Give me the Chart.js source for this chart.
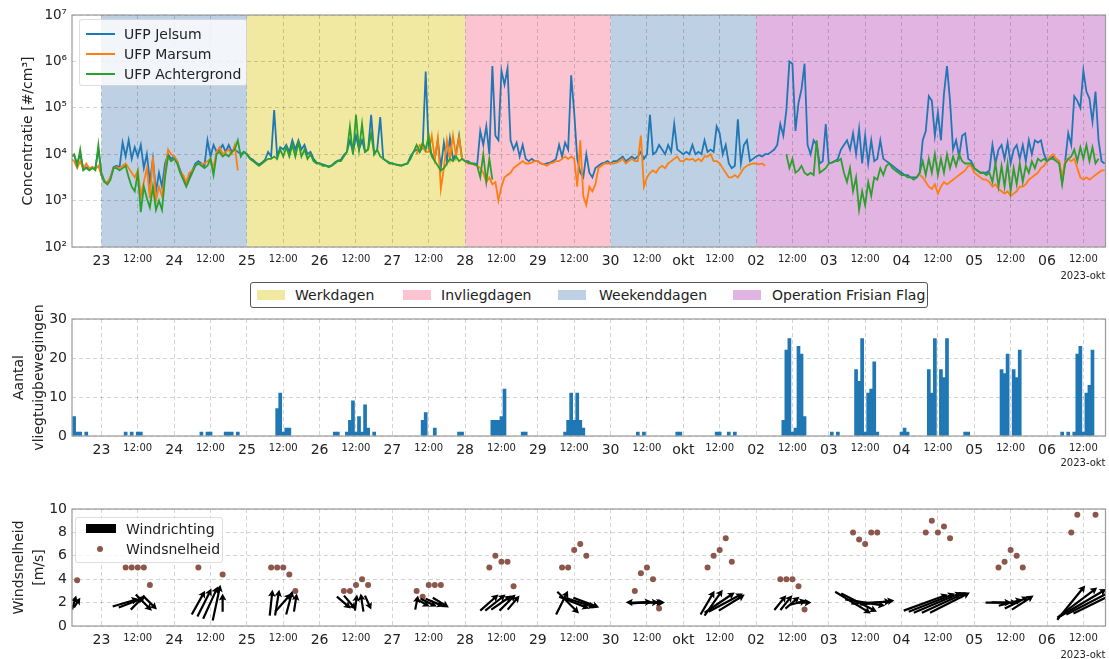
<!DOCTYPE html>
<html>
<head>
<meta charset="utf-8">
<script src="https://cdn.jsdelivr.net/npm/chart.js@4.4.1/dist/chart.umd.min.js"></script>
<style>
  body { margin: 0; width: 1109px; height: 659px; position: relative; overflow: hidden; background: #fff;
         font-family: 'DejaVu Sans', sans-serif; color: #222; }
  .panel { position: absolute; left: 0; }
  .legend { position: absolute; box-sizing: border-box; font-size: 14px; z-index: 2; }
  .legend span { position: absolute; white-space: nowrap; line-height: 16px; }
  .legend i { position: absolute; display: block; }
</style>
</head>
<body>
<div class="panel" style="top:0"><canvas id="conc" width="1109" height="290"></canvas></div>
<div class="panel" style="top:270px"><canvas id="flights" width="1109" height="200"></canvas></div>
<div class="panel" style="top:480px"><canvas id="wind" width="1109" height="185"></canvas></div>

<!-- legend, concentration panel -->
<div class="legend" style="left:79px;top:19px;width:168px;height:67px;background:rgba(255,255,255,0.8);border:1px solid rgba(0,0,0,0.13);border-radius:3px">
  <i style="left:6px;top:13px;width:29px;height:2px;background:#1f77b4"></i><span style="left:44px;top:6px">UFP Jelsum</span>
  <i style="left:6px;top:33px;width:29px;height:2px;background:#ff7f0e"></i><span style="left:44px;top:26px">UFP Marsum</span>
  <i style="left:6px;top:53px;width:29px;height:2px;background:#2ca02c"></i><span style="left:44px;top:46px">UFP Achtergrond</span>
</div>

<!-- legend, period types -->
<div class="legend" style="left:250px;top:282px;width:678px;height:26px;border:1px solid #555;border-radius:3px;background:#fff">
  <i style="left:6px;top:7px;width:28px;height:10px;background:#f1e9a2"></i><span style="left:44px;top:4px">Werkdagen</span>
  <i style="left:152px;top:7px;width:28px;height:10px;background:#fcc4d1"></i><span style="left:190px;top:4px">Invliegdagen</span>
  <i style="left:307px;top:7px;width:28px;height:10px;background:#bed0e4"></i><span style="left:348px;top:4px">Weekenddagen</span>
  <i style="left:482px;top:7px;width:28px;height:10px;background:#e2b4e2"></i><span style="left:521px;top:4px">Operation Frisian Flag</span>
</div>

<!-- legend, wind panel -->
<div class="legend" style="left:75px;top:517px;width:148px;height:46px;background:rgba(255,255,255,0.8);border:1px solid rgba(0,0,0,0.13);border-radius:3px">
  <i style="left:10px;top:6px;width:30px;height:9px;background:#000"></i><span style="left:50px;top:3px">Windrichting</span>
  <i style="left:21px;top:28px;width:6px;height:6px;border-radius:3px;background:#8c564b"></i><span style="left:50px;top:23px">Windsnelheid</span>
</div>

<script>
// ── Time axis: hours relative to 23 sep 2023 00:00 ──────────────────
const xMin = -9.7;
const xMax = 331.3;
const firstHour = -10;            // first sample of the concentration rows: 22 sep 14:00
const dayLabels = ['23', '24', '25', '26', '27', '28', '29', '30', 'okt', '02', '03', '04', '05', '06'];
const tickHours = [];
for (let h = 0; h <= 324; h += 12) tickHours.push(h);

// ── Periods (background bands) ──────────────────────────────────────
const periodStart = [0, 48, 120, 168, 216];
const periodEnd = [48, 120, 168, 216, 340];
const periodKind = ['Weekenddagen', 'Werkdagen', 'Invliegdagen', 'Weekenddagen', 'Operation Frisian Flag'];

// ── UFP concentration, log10(#/cm3), hourly; one row per day (22 sep 14:00 .. 06 okt) ──
const jelsumLog = [
  [3.95,3.98,3.8,4.0,3.7,3.72,3.68,3.72,3.7,4.1],
  [3.6,3.42,3.38,3.5,3.72,3.75,3.72,4.25, 3.95,4.3,3.9,4.15,3.95,4.2,3.7,4.0, 3.4,3.9,3.2,3.6,3.3,3.8,4.0,3.9],
  [3.95,3.85,3.65,3.5,3.35,3.5,3.65,3.8, 3.85,3.8,3.75,4.3,3.95,4.2,4.05,4.1, 4.2,4.05,4.2,4.05,4.1,4.05,4.0,4.05],
  [4.0,3.92,3.88,3.82,3.78,3.82,3.88,4.05, 3.95,4.95,3.95,4.15,4.1,4.2,4.05,4.3, 4.1,4.3,4.1,4.2,4.0,4.05,3.9,3.82],
  [3.8,3.78,3.76,3.74,3.76,3.82,3.86,3.88, 3.98,4.05,4.3,4.05,4.4,4.1,4.3,4.05, 4.1,4.85,4.0,4.1,4.8,3.9,3.86,3.82],
  [3.8,3.78,3.77,3.76,3.78,3.8,3.95,4.05, 4.1,4.05,4.15,5.78,4.1,4.0,3.9,4.3, 3.7,4.25,3.85,4.35,3.9,4.0,4.4,3.9],
  [3.85,3.85,3.8,3.8,3.78,4.5,4.2,4.6, 4.0,5.9,4.4,4.3,5.8,5.5,5.85,4.3, 4.1,4.25,3.95,4.2,3.9,3.85,3.9,3.85],
  [3.85,3.8,3.78,3.8,3.82,3.85,3.9,4.2, 3.95,4.25,4.1,5.7,4.9,3.9,3.6,3.5, 4.0,3.6,3.5,3.7,3.75,3.8,3.82,3.85],
  [3.8,3.85,3.85,3.9,3.95,3.85,3.9,3.95, 3.9,3.95,4.05,3.9,4.0,4.85,4.0,4.05, 4.2,4.1,4.0,4.2,4.05,4.65,4.1,4.05],
  [4.0,4.05,4.0,4.2,4.0,4.05,4.0,4.3, 4.05,4.1,4.05,4.6,4.45,4.0,4.2,3.8, 3.7,3.75,4.75,3.8,4.2,4.3,3.85,3.9],
  [3.95,3.98,3.95,4.0,4.0,4.05,4.1,4.2, 4.65,4.4,4.95,6.0,5.95,4.5,5.1,5.4, 5.95,4.2,4.0,4.3,4.2,3.8,3.85,4.65],
  [3.8,3.82,3.85,3.9,4.1,4.2,4.3,4.1, 4.45,4.0,4.55,3.8,4.4,3.8,4.3,3.85, 3.9,4.3,3.9,3.85,3.8,3.75,3.7,3.65],
  [3.6,3.55,3.55,3.5,3.5,3.5,3.6,4.3, 4.5,5.25,5.15,4.4,4.9,4.3,5.3,5.9, 5.15,4.1,4.3,3.95,4.4,4.45,3.9,3.85],
  [3.7,3.65,3.6,3.6,3.6,3.65,4.2,3.8, 4.1,4.2,3.9,4.25,3.8,4.1,4.2,3.9, 4.2,3.85,4.3,4.0,4.3,4.25,4.3,4.0],
  [3.85,3.9,3.95,3.9,3.85,3.4,3.85,4.45, 4.2,5.25,5.15,5.0,5.8,5.35,5.2,4.7, 5.35,4.3,3.85,3.8]
];
const marsumLog = [
  [3.9,3.85,3.7,3.85,3.68,3.8,3.7,3.72,3.68,3.75],
  [3.55,3.4,3.4,3.5,3.7,3.72,3.7,3.75, 3.8,3.7,3.6,3.5,3.65,3.1,3.4,3.7, 3.05,3.95,3.0,3.3,3.1,3.6,4.1,4.0],
  [3.95,3.85,3.6,3.55,3.4,3.6,3.65,3.75, 3.8,3.78,3.8,3.85,3.9,3.7,4.05,4.15, 4.0,4.05,4.1,4.0,4.2,3.65],
  [],
  [],
  [null,null,null,null,null,null,null,null, 4.0,4.2,4.15,4.05,4.05,4.4,3.9,4.35, 3.25,3.7,4.3,3.9,4.4,3.95,4.35,3.9],
  [3.85,3.8,3.8,3.78,3.75,3.7,3.6,3.4, 3.5,3.35,3.4,3.0,3.3,3.5,3.55,3.6, 3.7,3.75,3.8,3.85,3.8,3.8,3.82,3.85],
  [3.85,3.8,3.78,3.75,3.8,3.82,3.85,3.85, 3.9,3.95,3.9,3.95,3.9,3.3,4.3,3.1, 2.9,3.3,3.2,3.35,3.7,3.75,3.8,3.8],
  [3.8,3.8,3.82,3.85,3.9,3.8,3.85,3.9, 3.85,3.85,4.4,3.3,3.5,3.6,3.65,3.6, 3.7,3.75,3.7,3.8,3.85,3.9,3.95,3.85],
  [3.85,3.9,3.88,3.9,3.85,3.9,3.85,3.95, 3.95,4.0,3.85,3.85,3.8,3.7,3.6,3.5, 3.5,3.55,3.5,3.6,3.7,3.75,3.78,3.8],
  [3.8,3.78,3.8,3.75],
  [],
  [null,null,null,null,null,null,3.55,3.5, 3.4,3.3,3.25,3.35,3.15,3.3,3.4,3.35, 3.4,3.45,3.5,3.55,3.6,3.65,3.75,3.75],
  [3.6,3.55,3.5,3.45,3.45,3.4,3.3,3.35, 3.25,3.2,3.15,3.2,3.1,3.15,3.2,3.3, 3.3,3.35,3.45,3.5,3.55,3.6,3.7,3.75],
  [3.85,3.95,4.0,3.9,3.85,3.5,3.85,3.9, 3.85,3.9,3.7,3.5,3.45,3.5,3.45,3.5, 3.55,3.6,3.65,3.65]
];
const achtergrondLog = [
  [3.95,4.0,3.75,4.1,3.65,3.7,3.65,3.7,3.65,4.2],
  [3.55,3.4,3.35,3.45,3.7,3.7,3.65,3.7, 3.75,3.5,3.3,3.2,3.6,2.75,3.3,3.05, 2.85,3.3,2.8,3.0,2.8,3.5,3.95,3.85],
  [3.9,3.8,3.6,3.45,3.3,3.45,3.6,3.75, 3.8,3.75,3.7,3.75,3.9,3.55,4.0,4.05, 3.95,4.0,3.95,4.05,4.1,4.3,3.95,4.05],
  [4.0,3.9,3.85,3.8,3.75,3.8,3.85,3.9, 3.9,3.95,3.9,4.1,3.95,4.15,3.95,4.2, 3.95,4.25,3.95,4.1,3.9,4.0,3.85,3.8],
  [3.8,3.75,3.75,3.72,3.75,3.8,3.85,3.85, 3.95,4.05,4.6,4.0,4.85,4.1,4.65,4.05, 4.1,4.45,4.0,4.1,3.95,3.9,3.85,3.8],
  [3.8,3.78,3.76,3.75,3.78,3.8,3.9,4.05, 4.2,4.05,4.25,4.1,4.4,3.95,3.85,3.75, 3.65,3.7,3.8,3.9,3.85,3.95,3.85,3.9],
  [3.85,3.82,3.8,3.78,3.75,3.5,4.0,3.4, 3.9,3.45],
  [],
  [],
  [],
  [null,null,null,null,null,null,null,null, null,null,4.0,3.7,3.9,3.6,3.65,3.75, 3.6,3.55,3.6,3.55,4.3,3.6,3.65,3.7],
  [3.8,3.82,3.85,3.85,3.9,3.6,3.4,3.7, 3.2,3.5,2.8,3.2,2.9,3.4,3.1,3.5, 3.45,3.7,3.55,3.75,3.8,3.7,3.65,3.6],
  [3.55,3.55,3.5,3.5,3.45,3.5,3.6,3.85, 3.55,3.9,3.6,4.0,3.55,3.9,3.6,4.0, 3.7,3.95,3.75,4.0,3.85,3.8,3.8,3.8],
  [3.7,3.65,3.6,3.6,3.55,3.6,3.4,3.8, 3.3,3.75,3.3,3.8,3.2,3.7,3.35,3.8, 3.4,3.75,3.6,3.85,3.7,3.9,3.85,3.9],
  [3.85,3.9,3.9,3.85,3.8,3.35,3.8,3.9, 3.95,4.1,3.85,4.15,3.9,4.2,3.85,4.15, 3.8,3.9]
];

// ── Aircraft movements per hour ─────────────────────────────────────
const flightHour = [-9,-8,-7,-5, 8,10,12,13, 33,35,36,41,42,43,45, 58,59,60,61,62,
  77,78,81,82,83,84,85,86,87,88,90, 106,107,110,118,119, 129,130,131,132,133,139,140,
  153,154,155,156,157,158,159, 177,179,190,191, 203,204,207,209,
  225,226,227,228,229,230,231,232, 241,243,249,250,251,252,253,254,255,256,
  264,265,266,273,274,275,277,278,279,285,286, 297,298,299,301,302,303,
  317,319,321,322,323,324,325,326,327];
const flightCount = [5,1,1,1, 1,1,1,1, 1,1,1,1,1,1,1, 7,11,1,2,2,
  1,1,1,4,9,1,5,1,8,2,1, 4,6,2,1,1, 4,4,4,5,12,1,1,
  1,4,11,4,11,4,2, 1,1,1,1, 1,1,1,1,
  4,22,25,1,2,23,21,5, 1,1,17,14,25,1,11,12,19,1,
  1,2,1,17,11,25,17,15,25,1,1, 17,16,21,17,15,22,
  1,1,1,21,23,1,11,13,22];

// ── Wind ────────────────────────────────────────────────────────────
const windHour = [-8, 8,10,12,14,16, 32,40, 56,58,60,62,64, 80,82,84,86,88, 104,106,108,110,112,
  128,130,132,134,136, 152,154,156,158,160, 176,178,180,182,184, 200,202,204,206,208,
  224,226,228,230,232, 248,250,252,254,256, 272,274,276,278,280, 296,298,300,302,304, 320,322,328];
const windSpeed = [3.9, 5,5,5,5,3.5, 5,4.4, 5,5,5,4.4,3, 3,3,3.5,4,3.5, 3,2.5,3.5,3.5,3.5,
  5,6,5.5,5.5,3.4, 5,5,6.5,7,6, 3,4.5,5,4,1.5, 5,6,6.5,7.5,5.5,
  4,4,4,3.4,1.4, 8,7.4,7,8,8, 8,9,8,8.5,7.5, 5,5.5,6.5,6,5, 8,9.5,9.5];
// wind direction vectors (east, north components, m/s), drawn as arrows at speed level 2
const arrowHour = [-9,-8, 8,10,12,14,16, 32,34,36,38,40, 56,58,60,62,64, 80,82,84,86,88, 104,106,108,110,112,
  128,130,132,134,136, 152,154,156,158,160, 176,178,180,182,184, 200,202,204,206,208,
  224,226,228,230,232, 248,250,252,254,256, 272,274,276,278,280, 296,298,300,302,304, 320,322,324,326,328];
const arrowU = [0.6,0.9, 3.7,3.7,2.0,2.3,2.0, 1.9,2.0,2.1,1.1,0, 0.4,0.6,2.3,0.9,0.4, 2.0,1.7,0.3,-0.4,0.9, 0.4,2.0,2.3,2.6,2.3,
  2.6,2.9,2.9,2.3,1.7, 1.7,3.1,4.3,4.3,3.7, -2.6,3.1,3.4,2.9,1.7, 2.0,2.6,4.3,4.9,3.7,
  1.7,1.7,2.0,2.3,2.0, 5.1,5.1,5.7,5.7,4.9, 6.3,6.6,6.9,6.3,5.7, 3.7,3.7,3.4,3.4,3.1, 4.0,5.7,6.6,6.6,6.3];
const arrowV = [2.0,1.4, 1.1,1.4,2.0,-2.3,-2.0, 3.4,4.0,4.6,5.1,2.6, 3.7,3.7,2.6,3.4,2.6, -1.7,-2.0,2.3,2.6,-2.0, 2.0,-1.1,-1.1,-1.1,-1.4,
  2.3,2.3,2.0,2.3,2.0, 3.4,-3.1,-1.7,-1.4,-1.4, 0.1,0.3,0.1,0,0, 3.4,3.7,2.9,2.6,2.3,
  2.1,2.1,1.7,0.6,0, -3.1,-2.6,-0.9,0.3,0.6, 2.3,2.6,2.9,2.9,2.9, 0,-0.1,0.9,1.7,2.0, 4.9,4.3,3.9,3.4,3.1];
const arrowBase = 2;

// ── Styling ─────────────────────────────────────────────────────────
const FONT = "'DejaVu Sans', sans-serif";
const TEXT = '#222';
const GRID = 'rgba(0,0,0,0.17)';
const PERIOD_COLORS = {
  'Werkdagen': '#f1e9a2',
  'Invliegdagen': '#fcc4d1',
  'Weekenddagen': '#bed0e4',
  'Operation Frisian Flag': '#e2b4e2'
};
const SUP = ['⁰', '¹', '²', '³', '⁴', '⁵', '⁶', '⁷', '⁸', '⁹'];
Chart.defaults.font.family = FONT;
Chart.defaults.color = TEXT;

function rowsToPoints(rows) {
  const pts = [];
  rows.forEach((row, d) => {
    const start = d === 0 ? firstHour : (d - 1) * 24;
    row.forEach((v, i) => { if (v !== null) pts.push({ x: start + i, y: Math.pow(10, v) }); });
  });
  return pts;
}

function xAxis(axisHeight, titlePad) {
  return {
    type: 'linear', min: xMin, max: xMax, offset: false,
    afterBuildTicks: s => { s.ticks = tickHours.map(v => ({ value: v })); },
    afterFit: s => { s.height = axisHeight; },
    ticks: {
      autoSkip: false, maxRotation: 0, minRotation: 0, padding: 6, color: TEXT,
      callback: v => v % 24 === 0 ? dayLabels[v / 24] : '12:00',
      font: c => ({ family: FONT, size: (c.tick && c.tick.value % 24 !== 0) ? 10 : 14 })
    },
    grid: { color: GRID, lineWidth: 1, drawTicks: false, offset: false },
    border: { display: false, dash: [4, 3] },
    title: { display: true, text: '2023-okt', align: 'end', color: TEXT,
             font: { family: FONT, size: 10 }, padding: { top: 0, bottom: titlePad } }
  };
}

function yAxis(extra, title, titlePadTop, lineHeight) {
  return Object.assign({
    afterFit: s => { s.width = 72; },
    grid: { color: GRID, lineWidth: 1, drawTicks: false },
    border: { display: false, dash: [4, 3] },
    title: { display: true, text: title, color: TEXT,
             font: { family: FONT, size: 14, lineHeight: lineHeight }, padding: { top: titlePadTop, bottom: 0 } }
  }, extra);
}

// ── Plugins ─────────────────────────────────────────────────────────
const bandPlugin = {
  id: 'bands',
  beforeDraw(chart) {
    const { ctx, chartArea: a, scales: { x } } = chart;
    ctx.save();
    periodStart.forEach((s, i) => {
      const l = Math.max(a.left, x.getPixelForValue(s));
      const r = Math.min(a.right, x.getPixelForValue(periodEnd[i]));
      ctx.fillStyle = PERIOD_COLORS[periodKind[i]];
      ctx.fillRect(l, a.top, r - l, a.height);
    });
    ctx.restore();
  }
};

const framePlugin = {
  id: 'frame',
  afterDraw(chart) {
    const { ctx, chartArea: a } = chart;
    ctx.save();
    ctx.strokeStyle = '#9a9a9a';
    ctx.lineWidth = 1.2;
    ctx.strokeRect(a.left, a.top, a.width, a.height);
    ctx.restore();
  }
};

function drawArrow(ctx, x0, y0, ang, len) {
  const w = 1.1, hl = Math.min(7, len * 0.6), hw = 3.8;
  ctx.save();
  ctx.translate(x0, y0);
  ctx.rotate(ang);
  ctx.beginPath();
  ctx.moveTo(0, -w);
  ctx.lineTo(len - hl * 0.85, -w);
  ctx.lineTo(len - hl, -hw);
  ctx.lineTo(len, 0);
  ctx.lineTo(len - hl, hw);
  ctx.lineTo(len - hl * 0.85, w);
  ctx.lineTo(0, w);
  ctx.closePath();
  ctx.fill();
  ctx.restore();
}

const quiverPlugin = {
  id: 'quiver',
  afterDatasetsDraw(chart) {
    const { ctx, chartArea: a, scales: { x, y } } = chart;
    const pxPerMs = 7;
    ctx.save();
    ctx.beginPath();
    ctx.rect(a.left, a.top, a.width, a.height);
    ctx.clip();
    ctx.fillStyle = '#000';
    arrowHour.forEach((h, i) => {
      const cx = x.getPixelForValue(h), cy = y.getPixelForValue(arrowBase);
      const dx = arrowU[i] * pxPerMs, dy = -arrowV[i] * pxPerMs;
      drawArrow(ctx, cx - dx / 2, cy - dy / 2, Math.atan2(dy, dx), Math.hypot(dx, dy));
    });
    ctx.restore();
  }
};

const common = {
  responsive: false, animation: false, events: [],
  plugins: { legend: { display: false }, tooltip: { enabled: false } }
};

// ── Concentration panel ─────────────────────────────────────────────
new Chart(document.getElementById('conc'), {
  type: 'line',
  data: {
    datasets: [
      { label: 'UFP Jelsum', data: rowsToPoints(jelsumLog), borderColor: '#1f77b4', order: 3 },
      { label: 'UFP Marsum', data: rowsToPoints(marsumLog), borderColor: '#ff7f0e', order: 2 },
      { label: 'UFP Achtergrond', data: rowsToPoints(achtergrondLog), borderColor: '#2ca02c', order: 1 }
    ]
  },
  options: Object.assign({}, common, {
    layout: { padding: { left: 0, right: 3.5, top: 15, bottom: 0 } },
    elements: { line: { borderWidth: 1.8, tension: 0 }, point: { radius: 0, hoverRadius: 0 } },
    datasets: { line: { spanGaps: 1.5 } },
    scales: {
      x: xAxis(43, 8),
      y: yAxis({
        type: 'logarithmic', min: 100, max: 1e7,
        afterBuildTicks: s => { s.ticks = [1e2, 1e3, 1e4, 1e5, 1e6, 1e7].map(v => ({ value: v })); },
        ticks: { padding: 5, font: { size: 13.5 }, callback: v => '10' + SUP[Math.round(Math.log10(v))] }
      }, 'Concentratie [#/cm³]', 19.6, 1.2)
    }
  }),
  plugins: [bandPlugin, framePlugin]
});

// ── Aircraft movements panel ────────────────────────────────────────
new Chart(document.getElementById('flights'), {
  type: 'bar',
  data: {
    datasets: [{
      label: 'Aantal vliegtuigbewegingen',
      data: flightHour.map((h, i) => ({ x: h, y: flightCount[i] })),
      backgroundColor: '#1f77b4', borderWidth: 0,
      barPercentage: 1, categoryPercentage: 1
    }]
  },
  options: Object.assign({}, common, {
    layout: { padding: { left: 0, right: 3.5, top: 49, bottom: 0 } },
    scales: {
      x: xAxis(34, 1),
      y: yAxis({ min: 0, max: 30, ticks: { stepSize: 10, padding: 5, font: { size: 14 } } },
               ['Aantal', 'vliegtuigbewegingen'], 9.7, 1.4)
    }
  }),
  plugins: [framePlugin]
});

// ── Wind panel ──────────────────────────────────────────────────────
new Chart(document.getElementById('wind'), {
  type: 'scatter',
  data: {
    datasets: [{
      label: 'Windsnelheid',
      data: windHour.map((h, i) => ({ x: h, y: windSpeed[i] })),
      backgroundColor: '#8c564b', borderWidth: 0, pointRadius: 3, pointHoverRadius: 3
    }]
  },
  options: Object.assign({}, common, {
    layout: { padding: { left: 0, right: 3.5, top: 29, bottom: 0 } },
    scales: {
      x: xAxis(39, 4),
      y: yAxis({ min: 0, max: 10, ticks: { stepSize: 2, padding: 5, font: { size: 14 } } },
               ['Windsnelheid', '[m/s]'], 9.7, 1.4)
    }
  }),
  plugins: [framePlugin, quiverPlugin]
});
</script>
</body>
</html>
